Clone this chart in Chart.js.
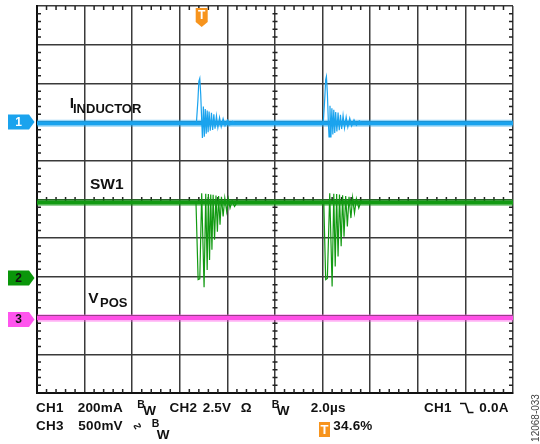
<!DOCTYPE html>
<html>
<head>
<meta charset="utf-8">
<script src="https://cdn.jsdelivr.net/npm/chart.js@4.4.0/dist/chart.umd.min.js"></script>
<style>
html, body { margin: 0; padding: 0; background: #fff; }
#wrap { position: relative; width: 540px; height: 444px; overflow: hidden; }
#scope { position: absolute; left: 0; top: 0; }
.t { position: absolute; font-family: 'Liberation Sans', Arial, sans-serif; font-weight: bold; color: #111; white-space: pre; }
.f15 { font-size: 15.5px; line-height: 15.5px; }
.f13 { font-size: 13px; line-height: 13px; }
.f14 { font-size: 13.5px; line-height: 13.5px; letter-spacing: 0.2px; }
.f10 { font-size: 10.5px; line-height: 10.5px; }
#trigBox { position: absolute; left: 319px; top: 422px; width: 11px; height: 15px; background: #f7941d; color: #fff;
  font: bold 13px/15px 'Liberation Sans', Arial, sans-serif; text-align: center; }
#figId { position: absolute; left: 511px; top: 413px; width: 50px; height: 10px; transform: rotate(-90deg);
  font: 10px/10px 'Liberation Sans', Arial, sans-serif; color: #444; text-align: center; }
</style>
</head>
<body>
<div id="wrap">
  <canvas id="scope" width="540" height="444"></canvas>

  <div class="t f15" style="left:69.7px; top:95.2px;">I</div>
  <div class="t f13" style="left:73px; top:101.7px;">INDUCTOR</div>
  <div class="t f15" style="left:90px; top:176.2px;">SW1</div>
  <div class="t f15" style="left:88.3px; top:290.2px;">V</div>
  <div class="t f13" style="left:100px; top:295.7px;">POS</div>

  <div class="t f14" style="left:36px; top:401.2px;">CH1</div>
  <div class="t f14" style="left:77.7px; top:401.2px;">200mA</div>
  <div class="t f10" style="left:137.3px; top:399.3px;">B</div>
  <div class="t f14" style="left:143.3px; top:404.2px;">W</div>
  <div class="t f14" style="left:169.5px; top:401.2px;">CH2</div>
  <div class="t f14" style="left:202.7px; top:401.2px;">2.5V</div>
  <div class="t f14" style="left:240.7px; top:401.2px;">Ω</div>
  <div class="t f10" style="left:271.7px; top:399.3px;">B</div>
  <div class="t f14" style="left:276.7px; top:404.2px;">W</div>
  <div class="t f14" style="left:310.7px; top:401.2px;">2.0µs</div>
  <div class="t f14" style="left:424px; top:401.2px;">CH1</div>
  <svg style="position:absolute; left:460px; top:402px;" width="14" height="12">
    <path d="M0,1.5 H5.5 L8.5,10.5 H13.5" fill="none" stroke="#111" stroke-width="1.6"/>
  </svg>
  <div class="t f14" style="left:479.3px; top:401.2px;">0.0A</div>

  <div class="t f14" style="left:36px; top:419.2px;">CH3</div>
  <div class="t f14" style="left:78.3px; top:419.2px;">500mV</div>
  <div class="t" style="left:131.5px; top:420px; font-family:'DejaVu Sans'; font-weight:bold; font-size:12px; line-height:12px; transform:rotate(-55deg);">∿</div>
  <div class="t f10" style="left:151.7px; top:417.5px;">B</div>
  <div class="t f14" style="left:156.7px; top:427.8px;">W</div>
  <div id="trigBox">T</div>
  <div class="t f14" style="left:333.3px; top:419.2px;">34.6%</div>

  <div id="figId">12068-033</div>
</div>

<script>
// time base: 2.0 us/div over 10 div; vertical in divisions
const timeMin = 0;
const timeMax = 20;
const divMin = -5;
const divMax = 5;

// ground markers (div) and trigger position (us)
const ch1Ground = 2.0;
const ch2Ground = -2.03;
const ch3Ground = -3.1;
const trigTime = 6.92;

// flat parts of each trace
const baseTime = [0, 20];
const ch1Base = [1.97, 1.97];
const ch2Base = [-0.08, -0.08];
const ch3Base = [-3.06, -3.06];

// CH1 inductor current, two switching bursts
const ch1BurstTime1 = [6.62, 6.70, 6.76, 6.80, 6.84, 6.88, 6.92, 6.95, 6.99, 7.03, 7.07, 7.11, 7.15, 7.19, 7.23, 7.28, 7.33, 7.38, 7.43, 7.48, 7.54, 7.60, 7.67, 7.74, 7.82, 7.90, 8.00, 8.10, 8.22, 8.35];
const ch1BurstLevel1 = [1.97, 2.00, 2.55, 3.05, 3.13, 2.70, 2.05, 1.59, 2.40, 1.62, 2.34, 1.70, 2.30, 1.74, 2.27, 1.78, 2.24, 1.80, 2.20, 1.83, 2.16, 1.86, 2.12, 1.88, 2.09, 1.91, 2.05, 1.93, 2.02, 1.97];
const ch1BurstTime2 = [11.96, 12.03, 12.09, 12.13, 12.16, 12.20, 12.24, 12.27, 12.31, 12.35, 12.39, 12.43, 12.47, 12.51, 12.55, 12.60, 12.65, 12.70, 12.75, 12.80, 12.86, 12.92, 12.99, 13.06, 13.14, 13.22, 13.32, 13.42, 13.54, 13.67];
const ch1BurstLevel2 = [1.97, 2.00, 2.60, 3.10, 3.18, 2.75, 2.02, 1.62, 2.42, 1.60, 2.36, 1.68, 2.32, 1.72, 2.26, 1.76, 2.25, 1.79, 2.19, 1.82, 2.17, 1.85, 2.13, 1.87, 2.10, 1.90, 2.06, 1.92, 2.03, 1.97];

// CH2 switch node, two ringing bursts
const ch2BurstTime1 = [6.68, 6.77, 6.84, 6.92, 7.02, 7.09, 7.15, 7.20, 7.25, 7.30, 7.35, 7.40, 7.46, 7.52, 7.58, 7.63, 7.69, 7.75, 7.82, 7.89, 7.97, 8.04, 8.11, 8.20, 8.30, 8.40];
const ch2BurstLevel1 = [-0.08, -2.07, -2.05, 0.16, -2.27, 0.15, -1.82, 0.14, -1.56, 0.13, -1.30, 0.12, -1.04, 0.10, -0.83, 0.09, -0.65, 0.07, -0.44, 0.04, -0.31, 0.02, -0.22, -0.03, -0.18, -0.08];
const ch2BurstTime2 = [12.05, 12.13, 12.20, 12.30, 12.40, 12.47, 12.53, 12.59, 12.65, 12.71, 12.78, 12.84, 12.90, 12.97, 13.04, 13.11, 13.19, 13.26, 13.34, 13.42, 13.52, 13.62, 13.72];
const ch2BurstLevel2 = [-0.08, -2.07, -2.04, 0.16, -2.25, 0.15, -1.73, 0.14, -1.47, 0.13, -1.21, 0.11, -0.96, 0.09, -0.70, 0.07, -0.48, 0.05, -0.35, 0.02, -0.22, -0.03, -0.08];

const ch1Color = '#1aa3ee';
const ch2Color = '#129a12';
const ch3Color = '#ff4fe6';
const trigColor = '#f7941d';

function toPoints(times, levels) {
    return times.map((t, i) => ({ x: t, y: levels[i] }));
}

function trace(times, levels, color, width, order) {
    return {
        data: toPoints(times, levels),
        borderColor: color,
        borderWidth: width,
        showLine: true,
        pointRadius: 0,
        tension: 0,
        order: order
    };
}

// minor ticks on the border and on the centre cross
const minorTicks = {
    id: 'minorTicks',
    beforeDatasetsDraw(chart) {
        const { ctx, chartArea: a, scales: { x, y } } = chart;
        const xc = x.getPixelForValue((timeMin + timeMax) / 2);
        const yc = y.getPixelForValue(0);
        ctx.save();
        ctx.strokeStyle = '#222';
        ctx.lineWidth = 1.5;
        ctx.beginPath();
        for (let i = 1; i < 50; i++) {
            if (i % 5 === 0) continue;
            const px = x.getPixelForValue(timeMin + i * (timeMax - timeMin) / 50);
            ctx.moveTo(px, a.top); ctx.lineTo(px, a.top + 4);
            ctx.moveTo(px, a.bottom); ctx.lineTo(px, a.bottom - 4);
            ctx.moveTo(px, yc - 2.5); ctx.lineTo(px, yc + 2.5);
            const py = y.getPixelForValue(divMin + i * (divMax - divMin) / 50);
            ctx.moveTo(a.left, py); ctx.lineTo(a.left + 4, py);
            ctx.moveTo(a.right, py); ctx.lineTo(a.right - 4, py);
            ctx.moveTo(xc - 2.5, py); ctx.lineTo(xc + 2.5, py);
        }
        ctx.stroke();
        ctx.restore();
    }
};

// channel ground badges on the left and trigger badge on top
const scopeMarkers = {
    id: 'scopeMarkers',
    afterDraw(chart) {
        const { ctx, chartArea: a, scales: { x, y } } = chart;
        const badges = [
            { level: ch1Ground, color: ch1Color, text: '1', textColor: '#fff' },
            { level: ch2Ground, color: '#0a960a', text: '2', textColor: '#111' },
            { level: ch3Ground, color: '#ff55ee', text: '3', textColor: '#111' }
        ];
        ctx.save();
        ctx.font = "bold 12px 'Liberation Sans', Arial, sans-serif";
        ctx.textAlign = 'center';
        ctx.textBaseline = 'middle';
        badges.forEach(b => {
            const cy = y.getPixelForValue(b.level);
            const tip = a.left - 2.5;
            ctx.fillStyle = b.color;
            ctx.beginPath();
            ctx.moveTo(8, cy - 7.5);
            ctx.lineTo(tip - 5.5, cy - 7.5);
            ctx.lineTo(tip, cy);
            ctx.lineTo(tip - 5.5, cy + 7.5);
            ctx.lineTo(8, cy + 7.5);
            ctx.closePath();
            ctx.fill();
            ctx.fillStyle = b.textColor;
            ctx.fillText(b.text, 18.5, cy + 0.5);
        });
        const tx = x.getPixelForValue(trigTime);
        ctx.fillStyle = trigColor;
        ctx.beginPath();
        ctx.moveTo(tx - 6, a.top + 2);
        ctx.lineTo(tx + 6, a.top + 2);
        ctx.lineTo(tx + 6, a.top + 16);
        ctx.lineTo(tx, a.top + 21);
        ctx.lineTo(tx - 6, a.top + 16);
        ctx.closePath();
        ctx.fill();
        ctx.fillStyle = '#fff';
        ctx.fillText('T', tx, a.top + 10);
        ctx.restore();
    }
};

const ctx = document.getElementById('scope').getContext('2d');
new Chart(ctx, {
    type: 'scatter',
    data: {
        datasets: [
            trace(ch1BurstTime1, ch1BurstLevel1, ch1Color, 1.2, 0),
            trace(ch1BurstTime2, ch1BurstLevel2, ch1Color, 1.2, 0),
            trace(ch2BurstTime1, ch2BurstLevel1, ch2Color, 1.2, 0),
            trace(ch2BurstTime2, ch2BurstLevel2, ch2Color, 1.2, 0),
            trace(baseTime, ch1Base, ch1Color, 4, 1),
            trace(baseTime, ch2Base, ch2Color, 4, 1),
            trace(baseTime, ch3Base, ch3Color, 4, 1),
            trace(baseTime, ch1Base, 'rgba(26,163,238,0.45)', 7, 2),
            trace(baseTime, ch2Base, 'rgba(18,154,18,0.45)', 7, 2),
            trace(baseTime, ch3Base, 'rgba(255,79,230,0.45)', 7.5, 2)
        ]
    },
    options: {
        responsive: false,
        animation: false,
        layout: {
            padding: { left: 37, right: 27, top: 6, bottom: 51 }
        },
        plugins: {
            legend: { display: false },
            tooltip: { enabled: false }
        },
        scales: {
            x: {
                type: 'linear',
                min: timeMin,
                max: timeMax,
                ticks: { display: false, stepSize: 2 },
                grid: { color: '#3a3a3a', lineWidth: 1.5, drawTicks: false },
                border: { display: true, color: '#111', width: 2 }
            },
            y: {
                type: 'linear',
                min: divMin,
                max: divMax,
                ticks: { display: false, stepSize: 1 },
                grid: { color: '#3a3a3a', lineWidth: 1.5, drawTicks: false },
                border: { display: true, color: '#111', width: 2 }
            }
        }
    },
    plugins: [minorTicks, scopeMarkers]
});
</script>
</body>
</html>
